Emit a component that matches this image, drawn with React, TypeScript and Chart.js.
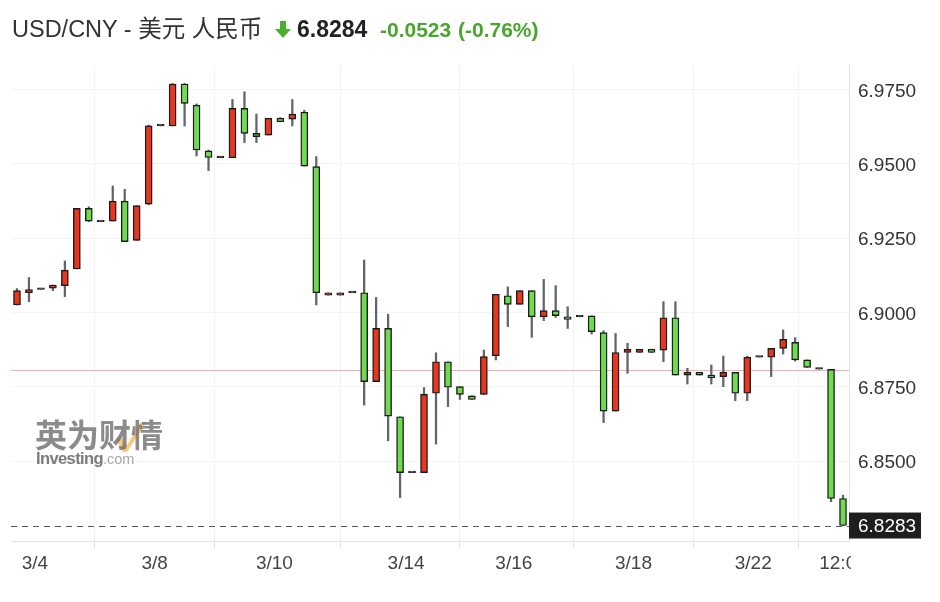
import React, { useEffect, useRef } from "react";
import { Chart, registerables } from "chart.js";

Chart.register(...registerables);

// ---- data ----
const opens = [
  6.9025, 6.9066, 6.9077, 6.9081, 6.9090, 6.9146, 6.9350, 6.9305, 6.9307, 6.9374,
  6.9242, 6.9364, 6.9627, 6.9627, 6.9768, 6.9697, 6.9543, 6.9520, 6.9520, 6.9686,
  6.9602, 6.9596, 6.9653, 6.9650, 6.9673, 6.9490, 6.9058, 6.9058, 6.9066, 6.9066,
  6.8767, 6.8946, 6.8649, 6.8461, 6.8461, 6.8728, 6.8834, 6.8750, 6.8719, 6.8724,
  6.8854, 6.9056, 6.9027, 6.9073, 6.8985, 6.9006, 6.8985, 6.8985, 6.8988, 6.8932,
  6.8668, 6.8865, 6.8865, 6.8876, 6.8873, 6.8982, 6.8789, 6.8798, 6.8789, 6.8784,
  6.8798, 6.8728, 6.8849, 6.8849, 6.8879, 6.8899, 6.8840, 6.8809, 6.8808, 6.8374,
];
const highs = [
  6.9080, 6.9117, 6.9077, 6.9092, 6.9173, 6.9350, 6.9355, 6.9305, 6.9425, 6.9414,
  6.9359, 6.9630, 6.9627, 6.9770, 6.9770, 6.9701, 6.9546, 6.9520, 6.9716, 6.9742,
  6.9667, 6.9653, 6.9655, 6.9716, 6.9680, 6.9524, 6.9066, 6.9066, 6.9066, 6.9176,
  6.9050, 6.8994, 6.8649, 6.8461, 6.8747, 6.8864, 6.8834, 6.8750, 6.8719, 6.8873,
  6.9061, 6.9086, 6.9073, 6.9073, 6.9111, 6.9090, 6.9019, 6.8985, 6.8988, 6.8938,
  6.8929, 6.8896, 6.8876, 6.8876, 6.9036, 6.9036, 6.8812, 6.8798, 6.8823, 6.8853,
  6.8798, 6.8853, 6.8849, 6.8879, 6.8941, 6.8915, 6.8840, 6.8809, 6.8808, 6.8385,
];
const lows = [
  6.9025, 6.9036, 6.9077, 6.9073, 6.9053, 6.9146, 6.9305, 6.9305, 6.9307, 6.9238,
  6.9242, 6.9362, 6.9627, 6.9627, 6.9627, 6.9526, 6.9477, 6.9520, 6.9520, 6.9571,
  6.9571, 6.9596, 6.9641, 6.9627, 6.9492, 6.9025, 6.9058, 6.9058, 6.9066, 6.8688,
  6.8767, 6.8568, 6.8377, 6.8461, 6.8461, 6.8557, 6.8683, 6.8707, 6.8707, 6.8724,
  6.8840, 6.8952, 6.9027, 6.8916, 6.8972, 6.8983, 6.8946, 6.8985, 6.8927, 6.8629,
  6.8668, 6.8795, 6.8865, 6.8865, 6.8834, 6.8789, 6.8759, 6.8789, 6.8759, 6.8750,
  6.8703, 6.8703, 6.8849, 6.8784, 6.8860, 6.8836, 6.8815, 6.8809, 6.8363, 6.8283,
];
const closes = [
  6.9073, 6.9077, 6.9077, 6.9092, 6.9142, 6.9350, 6.9307, 6.9305, 6.9374, 6.9238,
  6.9359, 6.9627, 6.9627, 6.9768, 6.9703, 6.9546, 6.9521, 6.9520, 6.9686, 6.9602,
  6.9591, 6.9653, 6.9641, 6.9667, 6.9492, 6.9066, 6.9066, 6.9066, 6.9066, 6.8767,
  6.8946, 6.8651, 6.8461, 6.8461, 6.8724, 6.8834, 6.8748, 6.8724, 6.8707, 6.8851,
  6.9061, 6.9027, 6.9073, 6.8985, 6.9006, 6.8989, 6.8976, 6.8985, 6.8935, 6.8668,
  6.8865, 6.8876, 6.8876, 6.8865, 6.8982, 6.8789, 6.8798, 6.8789, 6.8780, 6.8798,
  6.8728, 6.8849, 6.8849, 6.8879, 6.8909, 6.8840, 6.8815, 6.8809, 6.8374, 6.8283,
];

const xTickPositions = [1.5, 11.5, 21.5, 32.5, 41.5, 51.5, 61.5, 69];
const xTickLabels = ["3/4", "3/8", "3/10", "3/14", "3/16", "3/18", "3/22", "12:00"];
const yTickValues = [6.85, 6.875, 6.9, 6.925, 6.95, 6.975];
const lastPrice = 6.8283;
const prevClose = 6.8807;
const yMin = 6.8231;
const yMax = 6.9832;

const titleText = "USD/CNY - 美元 人民币";
const priceText = "6.8284";
const changeText = "-0.0523";
const changePctText = "(-0.76%)";

// ---- styles ----
const FONT = '"Liberation Sans", Arial, "Noto Sans CJK SC", sans-serif';
const UP = "#e8361f";
const DOWN = "#6fdc50";
const EDGE = "#1b1b1b";
const FLAT = "#3a3a3a";
const WICK = "#5f656a";
const GREEN_TXT = "#4aa52e";

const overlayPlugin = {
  id: "overlay",
  beforeDatasetsDraw(chart: any) {
    const { ctx, chartArea, scales } = chart;
    const y = scales.y;
    ctx.save();
    const yp = Math.round(y.getPixelForValue(prevClose)) + 0.5;
    ctx.strokeStyle = "rgba(235, 95, 95, 0.5)";
    ctx.lineWidth = 1;
    ctx.beginPath();
    ctx.moveTo(chartArea.left, yp);
    ctx.lineTo(chartArea.right, yp);
    ctx.stroke();
    const yl = Math.round(y.getPixelForValue(lastPrice)) + 0.5;
    ctx.strokeStyle = "#555";
    ctx.lineWidth = 1.2;
    ctx.setLineDash([6, 5]);
    ctx.beginPath();
    ctx.moveTo(chartArea.left, yl);
    ctx.lineTo(chartArea.right, yl);
    ctx.stroke();
    ctx.restore();
  },
  afterDraw(chart: any) {
    const { ctx, chartArea, scales } = chart;
    const x = scales.x;
    const y = scales.y;
    // x labels (clipped at the price axis)
    ctx.save();
    ctx.beginPath();
    ctx.rect(0, chartArea.bottom + 1, chartArea.right + 2, 80);
    ctx.clip();
    ctx.font = `19px ${FONT}`;
    ctx.fillStyle = "#444";
    ctx.textAlign = "center";
    ctx.textBaseline = "middle";
    xTickPositions.forEach((p, i) => {
      ctx.fillText(xTickLabels[i], x.getPixelForValue(p), chartArea.bottom + 23);
    });
    ctx.restore();
    // y labels
    ctx.save();
    ctx.font = `19px ${FONT}`;
    ctx.fillStyle = "#333";
    ctx.textAlign = "left";
    ctx.textBaseline = "middle";
    yTickValues.forEach((v) => {
      ctx.fillText(v.toFixed(4), chartArea.right + 9, y.getPixelForValue(v) + 2);
    });
    ctx.restore();
    // last price tag
    ctx.save();
    const yl = y.getPixelForValue(lastPrice);
    ctx.fillStyle = "#1e1e1e";
    ctx.fillRect(chartArea.right, yl - 13, 72, 26);
    ctx.font = `19px ${FONT}`;
    ctx.fillStyle = "#fff";
    ctx.textAlign = "left";
    ctx.textBaseline = "middle";
    ctx.fillText(lastPrice.toFixed(4), chartArea.right + 9, yl + 1);
    ctx.restore();
  },
};

export default function App() {
  const ref = useRef<HTMLCanvasElement | null>(null);

  useEffect(() => {
    if (!ref.current) return;
    const idx = opens.map((_, i) => i);
    const bodyData = idx.map((i) => ({ x: i, y: [opens[i], closes[i]] }));
    const wickData = idx.map((i) => ({ x: i, y: [lows[i], highs[i]] }));
    const bodyColors = idx.map((i) =>
      closes[i] === opens[i] ? FLAT : closes[i] > opens[i] ? UP : DOWN
    );

    const chart = new Chart(ref.current, {
      type: "bar",
      data: {
        datasets: [
          {
            label: "wick",
            data: wickData as any,
            backgroundColor: WICK,
            borderWidth: 0,
            barThickness: 1.6,
            grouped: false,
            order: 2,
          } as any,
          {
            label: "body",
            data: bodyData as any,
            backgroundColor: bodyColors,
            borderColor: EDGE,
            borderWidth: 1.4,
            borderSkipped: false,
            barThickness: 7,
            minBarLength: 1.6,
            grouped: false,
            order: 1,
          } as any,
        ],
      },
      options: {
        animation: false,
        responsive: false,
        maintainAspectRatio: false,
        layout: { padding: { top: 65, left: 11, right: 0, bottom: 0 } },
        plugins: { legend: { display: false }, tooltip: { enabled: false } },
        scales: {
          x: {
            type: "linear",
            min: -0.5,
            max: 69.5,
            offset: false,
            afterBuildTicks: (s: any) => {
              s.ticks = xTickPositions.map((v) => ({ value: v }));
            },
            afterFit: (s: any) => {
              s.height = 61;
            },
            ticks: { display: false },
            grid: {
              color: "#f1f2f4",
              drawTicks: true,
              tickLength: 7,
              tickColor: "#dcdfe4",
            },
            border: { display: true, color: "#dfe2e7" },
          },
          y: {
            type: "linear",
            position: "right",
            min: yMin,
            max: yMax,
            afterBuildTicks: (s: any) => {
              s.ticks = yTickValues.map((v) => ({ value: v }));
            },
            afterFit: (s: any) => {
              s.width = 91;
            },
            ticks: { display: false },
            grid: { color: "#f3f4f6", drawTicks: false },
            border: { display: true, color: "#dfe2e7" },
          },
        },
      } as any,
      plugins: [overlayPlugin],
    });
    return () => chart.destroy();
  }, []);

  return (
    <div
      style={{
        position: "absolute",
        left: 0,
        top: 0,
        width: 940,
        height: 602,
        background: "#fff",
        fontFamily: FONT,
        overflow: "hidden",
      }}
    >
      <canvas ref={ref} width={940} height={602} style={{ position: "absolute", left: 0, top: 0 }} />
      {/* watermark */}
      <svg width="40" height="32" style={{ position: "absolute", left: 112, top: 421, opacity: 0.6 }}>
        <polygon points="4,18 10,16 14,26 28,2 34,2 15,31 11,31" fill="#f5a623" />
      </svg>
      <div
        style={{
          position: "absolute",
          left: 35,
          top: 416,
          fontSize: 32,
          fontWeight: 700,
          color: "rgba(110,110,110,0.8)",
          fontFamily: '"Noto Sans CJK SC", sans-serif',
          lineHeight: "35px",
          letterSpacing: 0,
          whiteSpace: "nowrap",
        }}
      >
        英为财情
      </div>
      <div
        style={{
          position: "absolute",
          left: 36,
          top: 449,
          lineHeight: "18px",
          whiteSpace: "nowrap",
          fontFamily: FONT,
        }}
      >
        <span style={{ fontSize: 16.5, fontWeight: 700, color: "rgba(100,100,100,0.85)", letterSpacing: -0.6 }}>Investing</span>
        <span style={{ fontSize: 14.5, color: "rgba(150,150,150,0.85)" }}>.com</span>
      </div>
      {/* title */}
      <div style={{ position: "absolute", left: 12, top: 15, fontSize: 23.5, color: "#333", lineHeight: "28px", whiteSpace: "nowrap" }}>
        {titleText}
      </div>
      <svg width="18" height="18" style={{ position: "absolute", left: 274, top: 21 }}>
        <polygon points="6,0 12,0 12,8 17,8 9,17 1,8 6,8" fill="#4caf32" />
      </svg>
      <div style={{ position: "absolute", left: 297, top: 15, fontSize: 23, fontWeight: 700, color: "#222", lineHeight: "28px" }}>
        {priceText}
      </div>
      <div style={{ position: "absolute", left: 380, top: 16, fontSize: 21, fontWeight: 700, color: GREEN_TXT, lineHeight: "28px", whiteSpace: "nowrap" }}>
        {changeText}
      </div>
      <div style={{ position: "absolute", left: 458, top: 16, fontSize: 21, fontWeight: 700, color: GREEN_TXT, lineHeight: "28px", whiteSpace: "nowrap" }}>
        {changePctText}
      </div>
    </div>
  );
}
